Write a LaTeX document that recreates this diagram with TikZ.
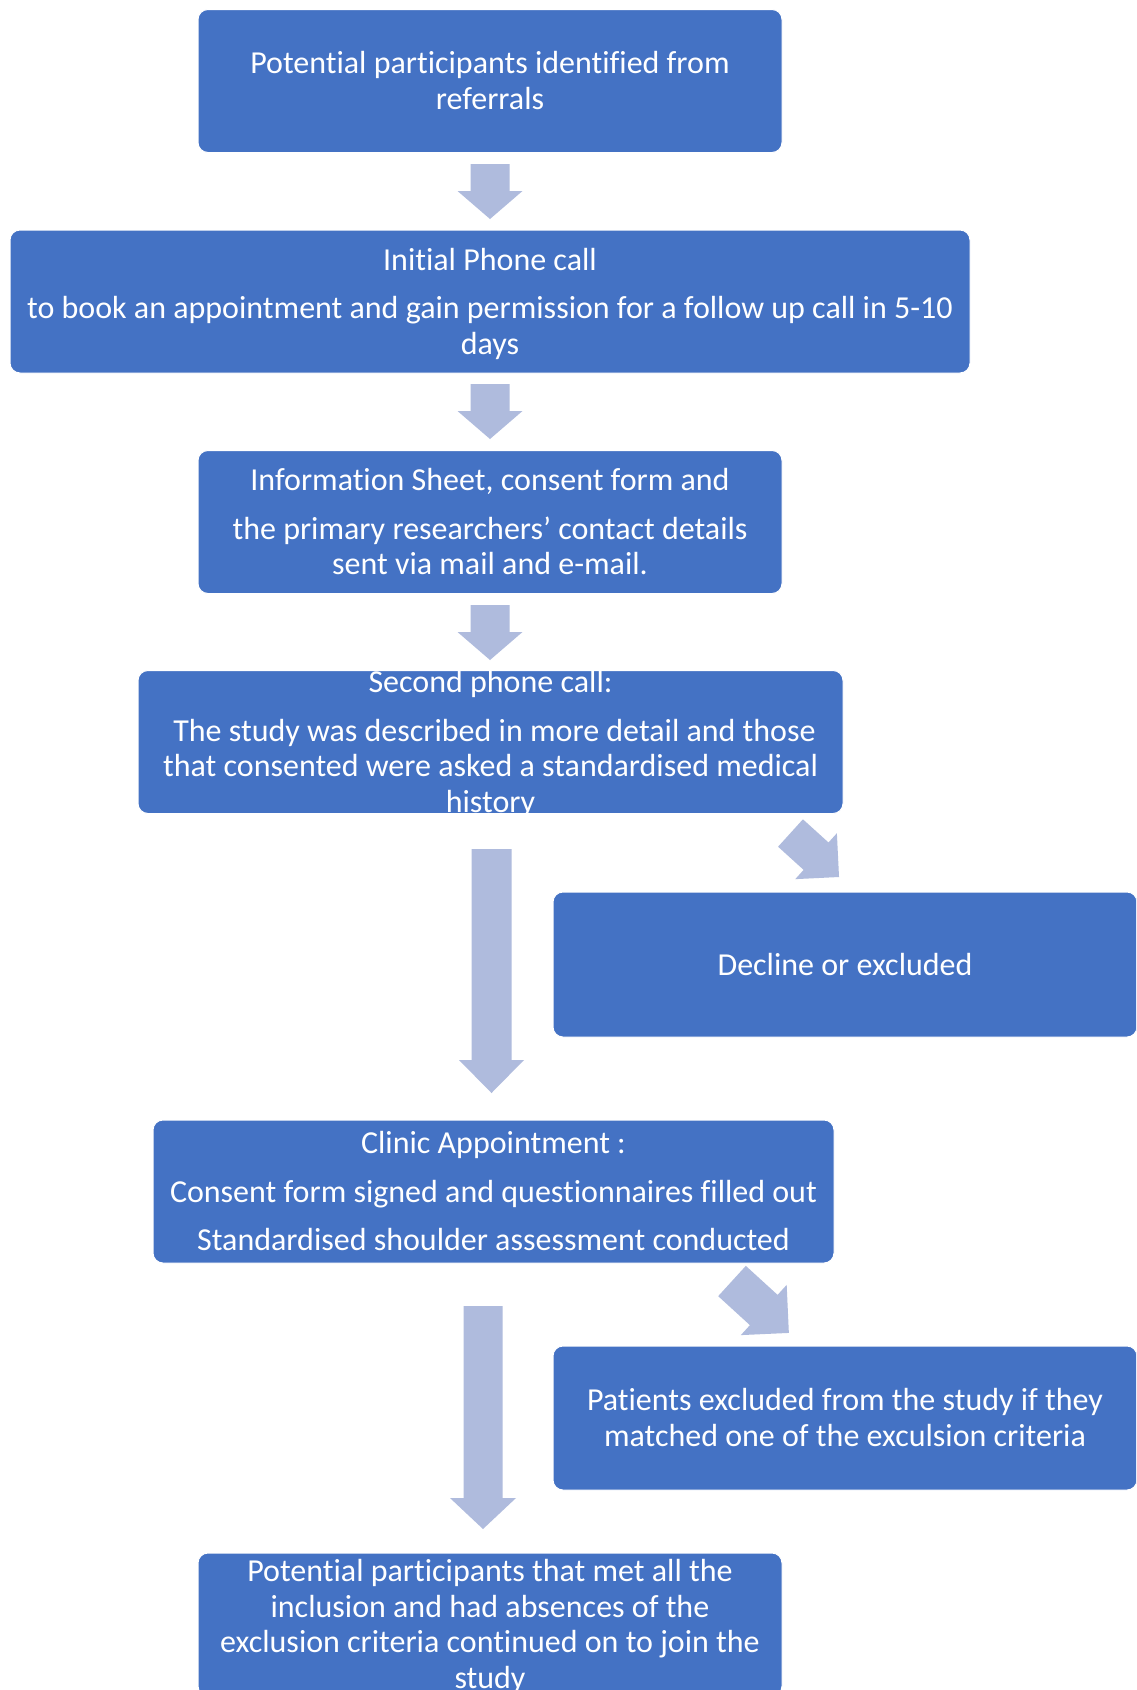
\documentclass[tikz,border=0pt]{standalone}
\usepackage{fontspec}
\setmainfont{Carlito}[Ligatures=NoCommon]
\definecolor{boxblue}{RGB}{68,114,196}
\definecolor{arrblue}{RGB}{175,187,221}
\newcommand\st{\rule[-0.17em]{0pt}{1.0em}}
\newcommand\blockarr[6]{%
  \fill[arrblue, shift={(#1)}, rotate=#2]
    (0,-#5) -- ({#3-#4},-#5) -- ({#3-#4},-#6) -- (#3,0) -- ({#3-#4},#6) -- ({#3-#4},#5) -- (0,#5) -- cycle;}
\tikzset{
  flowbox/.style={draw=white, line width=1pt, fill=boxblue, rounded corners=10pt,
    minimum width=#1, minimum height=143pt, inner sep=0pt},
  boxtext/.style={text=white, align=center, inner sep=0pt,
    font=\fontsize{32}{35.5}\selectfont}
}
\begin{document}
\begin{tikzpicture}[x=1pt,y=-1pt]
\useasboundingbox (0,0) rectangle (1136,1690);
\clip (0,0) rectangle (1136,1690);
\fill[white] (0,0) rectangle (1136,1690);

% boxes
\node[flowbox=584pt] (b1) at (490,81) {};
\node[boxtext] (t1) at (b1.center) {\st Potential participants identified from\\\st referrals};

\node[flowbox=960pt] (b2) at (490,301.5) {};
\node[boxtext] (t2) at (b2.center) {\st Initial Phone call\\[13pt]\st to book an appointment and gain permission for a follow up call in 5-10\\\st days};

\node[flowbox=584pt] (b3) at (490,522) {};
\node[boxtext] (t3) at (b3.center) {\st Information Sheet, consent form and\\[13pt]\st the primary researchers’ contact details\\\st sent via mail and e-mail.};

\node[flowbox=705pt] (b4) at (490.5,742) {};
\node[boxtext] (t4) at (b4.center) {\st Second phone call:\\[13pt]\st\hspace*{0.25em}The study was described in more detail and those\\\st that consented were asked a standardised medical\\\st history};

\node[flowbox=584pt, minimum height=145pt] (b5) at (845,964.5) {};
\node[boxtext] (t5) at (b5.center) {\st Decline or excluded};

\node[flowbox=681pt] (b6) at (493.5,1191.5) {};
\node[boxtext] (t6) at (b6.center) {\st Clinic Appointment :\\[13pt]\st Consent form signed and questionnaires filled out\\[13pt]\st Standardised shoulder assessment conducted};

\node[flowbox=584pt, minimum height=144pt] (b7) at (845,1418) {};
\node[boxtext] (t7) at (b7.center) {\st Patients excluded from the study if they\\\st matched one of the exculsion criteria};

\node[flowbox=584pt] (b8) at (490,1624.5) {};
\node[boxtext] (t8) at (b8.center) {\st Potential participants that met all the\\\st inclusion and had absences of the\\\st exclusion criteria continued on to join the\\\st study};

% arrows
\coordinate (a1) at (490,164);
\coordinate (a2) at (490,384);
\coordinate (a3) at (490,605);
\coordinate (a4) at (491.5,849);
\coordinate (a5) at (790.5,833);
\coordinate (a6) at (483,1306);
\coordinate (a7) at (732,1281);
\blockarr{a1}{-90}{55}{28}{19.5}{32.5}
\blockarr{a2}{-90}{55}{28}{19.5}{32.5}
\blockarr{a3}{-90}{55}{28}{19.5}{32.5}
\blockarr{a4}{-90}{244}{33}{20}{32.5}
\blockarr{a5}{-42.2}{65.5}{31}{18.5}{31}
\blockarr{a6}{-90}{223}{31}{19.5}{33}
\blockarr{a7}{-42.4}{77}{34}{20.5}{34}
\end{tikzpicture}
\end{document}
